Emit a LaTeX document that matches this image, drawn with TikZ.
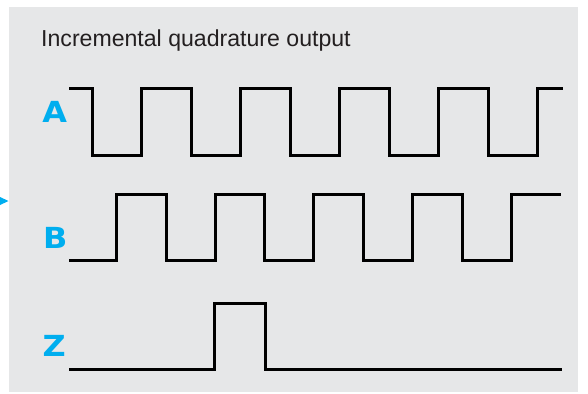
\documentclass[tikz,border=0pt]{standalone}
\usepackage{fontspec}
\setmainfont{Liberation Sans}
\newfontfamily\labfont{DejaVu Sans}
\definecolor{bgray}{HTML}{E6E7E8}
\definecolor{eblue}{HTML}{00AEEF}
\definecolor{tgray}{HTML}{231F20}
\begin{document}
\begin{tikzpicture}[x=1pt,y=-1pt,
  wave/.style={line width=3pt,black,line join=miter,line cap=butt},
  siglabel/.style={inner sep=0pt,text=eblue,xscale=1.1,font=\labfont\bfseries\fontsize{29}{29}\selectfont},
  title/.style={inner sep=0pt,anchor=base west,text=tgray,font=\fontsize{23.1}{23}\selectfont}]
\useasboundingbox (0,0) rectangle (588,393);
\fill[white] (0,0) rectangle (588,393);
\fill[bgray] (9,7) rectangle (578,391.5);
\fill[eblue] (0,197) -- (8.5,201) -- (0,205) -- cycle;
\node[title] (ttl) at (41,46.7) {Incremental quadrature output};
\node[siglabel] (la) at (54.8,112) {A};
\node[siglabel] (lb) at (55.3,237.5) {B};
\node[siglabel] (lz) at (54.2,345.8) {Z};
% A
\draw[wave] (69,89) -| (92,155) -| (141,89) -| (191,155) -| (240,89) -| (290,155)
  -| (339,89) -| (389,155) -| (438,89) -| (488,155) -| (537,89) -- (563,89);
% B
\draw[wave] (69,260) -| (116.5,194) -| (166,260) -| (215,194) -| (264.5,260) -| (313.5,194)
  -| (363,260) -| (412.5,194) -| (462,260) -| (511,194) -- (561,194);
% Z
\draw[wave] (69,369) -| (214.5,303) -| (265,369) -- (562,369);
\end{tikzpicture}
\end{document}
